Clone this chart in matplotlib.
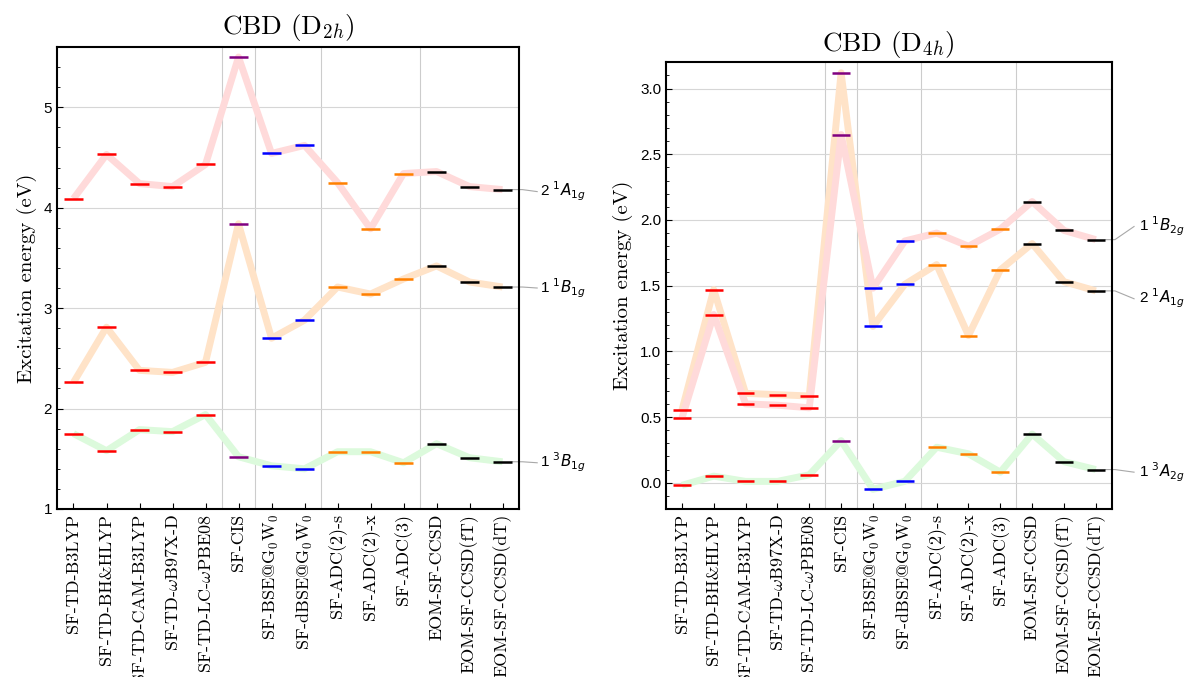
import numpy as np
import matplotlib
matplotlib.use("Agg")
import matplotlib.pyplot as plt
from matplotlib.ticker import MultipleLocator

# metodos y colores de los marcadores
metodos = ["SF-TD-B3LYP", "SF-TD-BH&HLYP", "SF-TD-CAM-B3LYP", r"SF-TD-$\omega$B97X-D",
           r"SF-TD-LC-$\omega$PBE08", "SF-CIS", r"SF-BSE@G$_0$W$_0$", r"SF-dBSE@G$_0$W$_0$",
           "SF-ADC(2)-s", "SF-ADC(2)-x", "SF-ADC(3)", "EOM-SF-CCSD", "EOM-SF-CCSD(fT)",
           "EOM-SF-CCSD(dT)"]
colores = ["#ff0000"] * 5 + ["#800080"] + ["#0000ff"] * 2 + ["#ff8000"] * 3 + ["#000000"] * 3

# CBD D2h (eV)
d2h_2A1g = [4.09, 4.53, 4.24, 4.21, 4.43, 5.50, 4.54, 4.62, 4.25, 3.79, 4.34, 4.36, 4.21, 4.18]
d2h_1B1g = [2.26, 2.81, 2.38, 2.36, 2.46, 3.84, 2.70, 2.88, 3.21, 3.14, 3.29, 3.42, 3.26, 3.21]
d2h_3B1g = [1.75, 1.58, 1.79, 1.77, 1.94, 1.52, 1.43, 1.40, 1.57, 1.57, 1.46, 1.65, 1.51, 1.47]

# CBD D4h (eV)
d4h_1B2g = [0.49, 1.28, 0.60, 0.59, 0.57, 2.65, 1.48, 1.84, 1.90, 1.80, 1.93, 2.14, 1.92, 1.85]
d4h_2A1g = [0.55, 1.47, 0.68, 0.67, 0.66, 3.12, 1.19, 1.51, 1.66, 1.12, 1.62, 1.82, 1.53, 1.46]
d4h_3A2g = [-0.02, 0.05, 0.01, 0.01, 0.06, 0.32, -0.05, 0.01, 0.27, 0.22, 0.08, 0.37, 0.16, 0.10]

ROSA = "#ffdada"
NARANJA = "#ffe3c8"
VERDE = "#dcfadc"

plt.rcParams["mathtext.fontset"] = "cm"
plt.rcParams["axes.unicode_minus"] = False

x = np.arange(len(metodos))

fig = plt.figure(figsize=(11.85, 6.77), dpi=100)
ax1 = fig.add_axes([0.0481, 0.2482, 0.3899, 0.6824])
ax2 = fig.add_axes([0.5620, 0.2482, 0.3762, 0.6598])


def panel(ax, series, titulo, ylim, mayor, menor, pad):
    for vals, col in series:
        ax.plot(x, vals, color=col, lw=5, zorder=2, solid_capstyle="butt")
    for vals, col in series:
        ax.hlines(vals, x - 0.28, x + 0.28, colors=colores, lw=1.8, zorder=3)
    ax.set_xlim(-0.5, 13.5)
    ax.set_ylim(*ylim)
    ax.yaxis.set_major_locator(MultipleLocator(mayor))
    ax.yaxis.set_minor_locator(MultipleLocator(menor))
    ax.set_xticks(x)
    ax.set_xticklabels(metodos, rotation=90, fontsize=13, fontfamily="cmr10")
    ax.tick_params(axis="x", direction="in", length=4, pad=3.5)
    ax.tick_params(axis="y", which="major", direction="in", length=4, labelsize=11,
                   labelfontfamily="Liberation Sans")
    ax.tick_params(axis="y", which="minor", direction="in", length=2)
    ax.tick_params(top=False, right=False)
    ax.grid(True, axis="y", color="#d6d6d6", lw=0.8, zorder=0)
    for xv in [4.5, 5.5, 7.5, 10.5]:
        ax.axvline(xv, color="#cccccc", lw=0.8, zorder=0)
    for s in ax.spines.values():
        s.set_linewidth(1.5)
    ax.set_title(titulo, fontsize=19.5, fontfamily="cmr10", pad=pad)
    ax.set_ylabel("Excitation energy (eV)", fontsize=15, fontfamily="cmr10")


def etiqueta(ax, yv, ylab, texto, x1, xt):
    ax.plot([13.3, 13.6, x1], [yv, yv, ylab], color="#a8a8a8", lw=0.8, clip_on=False, zorder=1)
    ax.text(xt, ylab, texto, fontsize=11, fontfamily="Liberation Sans",
            math_fontfamily="dejavusans", va="center", ha="left")


panel(ax1, [(d2h_3B1g, VERDE), (d2h_1B1g, NARANJA), (d2h_2A1g, ROSA)],
      r"CBD (D$_{2h}$)", (1, 5.6), 1, 0.2, 9)
panel(ax2, [(d4h_3A2g, VERDE), (d4h_2A1g, NARANJA), (d4h_1B2g, ROSA)],
      r"CBD (D$_{4h}$)", (-0.2, 3.2), 0.5, 0.1, 8)
ax1.yaxis.set_label_coords(-0.043, 0.5)
ax2.yaxis.set_label_coords(-0.074, 0.5)

etiqueta(ax1, d2h_2A1g[-1], d2h_2A1g[-1] - 0.02, r"2 $^{1}A_{1g}$", 14.05, 14.15)
etiqueta(ax1, d2h_1B1g[-1], d2h_1B1g[-1] - 0.01, r"1 $^{1}B_{1g}$", 14.05, 14.15)
etiqueta(ax1, d2h_3B1g[-1], d2h_3B1g[-1] - 0.01, r"1 $^{3}B_{1g}$", 14.05, 14.15)

etiqueta(ax2, d4h_1B2g[-1], 1.95, r"1 $^{1}B_{2g}$", 14.2, 14.35)
etiqueta(ax2, d4h_2A1g[-1], 1.40, r"2 $^{1}A_{1g}$", 14.2, 14.35)
etiqueta(ax2, d4h_3A2g[-1], 0.08, r"1 $^{3}A_{2g}$", 14.2, 14.35)

fig.savefig("out.png", dpi=100)
